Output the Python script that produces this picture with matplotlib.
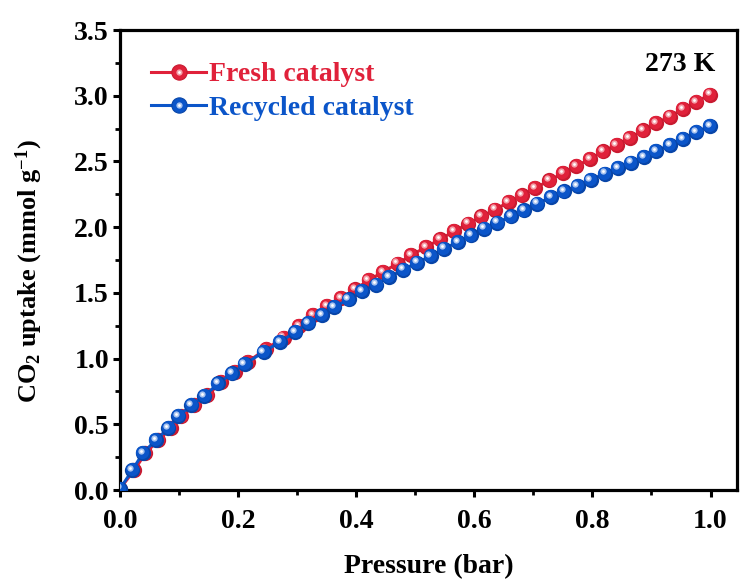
import matplotlib
matplotlib.use("Agg")
import matplotlib.pyplot as plt
from matplotlib import transforms
from matplotlib.lines import Line2D
from matplotlib.legend_handler import HandlerTuple

# CO2 adsorption isotherms at 273 K
fresh_p = [0.0, 0.024, 0.043, 0.065, 0.086, 0.104, 0.126, 0.148, 0.171, 0.195,
           0.216, 0.248, 0.277, 0.303, 0.327, 0.35, 0.374, 0.398, 0.421, 0.445,
           0.47, 0.493, 0.518, 0.542, 0.566, 0.59, 0.612, 0.635, 0.658, 0.681,
           0.703, 0.727, 0.75, 0.773, 0.796, 0.818, 0.841, 0.863, 0.886, 0.908,
           0.931, 0.953, 0.976, 0.999]
fresh_q = [0.01, 0.15, 0.28, 0.38, 0.47, 0.56, 0.645, 0.72, 0.82, 0.90,
           0.975, 1.075, 1.16, 1.25, 1.33, 1.398, 1.461, 1.527, 1.596, 1.659,
           1.723, 1.786, 1.849, 1.907, 1.97, 2.027, 2.082, 2.133, 2.191, 2.242,
           2.297, 2.356, 2.411, 2.464, 2.52, 2.576, 2.627, 2.68, 2.736, 2.791,
           2.842, 2.897, 2.954, 3.009]

recycled_p = [0.0, 0.021, 0.039, 0.061, 0.082, 0.099, 0.121, 0.143, 0.166, 0.19,
              0.211, 0.243, 0.271, 0.297, 0.319, 0.342, 0.363, 0.387, 0.41, 0.434,
              0.456, 0.48, 0.503, 0.526, 0.549, 0.572, 0.594, 0.617, 0.639, 0.662,
              0.684, 0.707, 0.73, 0.752, 0.775, 0.797, 0.821, 0.843, 0.865, 0.887,
              0.908, 0.931, 0.953, 0.976, 0.999]
recycled_q = [0.01, 0.152, 0.283, 0.38, 0.473, 0.562, 0.646, 0.714, 0.811, 0.887,
              0.957, 1.05, 1.127, 1.203, 1.27, 1.33, 1.393, 1.451, 1.512, 1.563,
              1.621, 1.677, 1.73, 1.78, 1.837, 1.887, 1.938, 1.989, 2.034, 2.082,
              2.128, 2.179, 2.229, 2.272, 2.315, 2.361, 2.407, 2.452, 2.492, 2.533,
              2.578, 2.627, 2.672, 2.723, 2.771]

series_labels = ["Fresh catalyst", "Recycled catalyst"]
x_ticks = [0.0, 0.2, 0.4, 0.6, 0.8, 1.0]
y_ticks = [0.0, 0.5, 1.0, 1.5, 2.0, 2.5, 3.0, 3.5]

RED = "#e0213a"
RED_DARK = "#c81a30"
RED_LIGHT = "#f4a0aa"
BLUE = "#0b55c9"
BLUE_DARK = "#0845a8"
BLUE_LIGHT = "#a9c4f0"

plt.rcParams["font.family"] = ["Liberation Serif", "DejaVu Serif"]
plt.rcParams["font.weight"] = "bold"
plt.rcParams["mathtext.fontset"] = "custom"
plt.rcParams["mathtext.rm"] = "Liberation Serif:bold"
plt.rcParams["mathtext.it"] = "Liberation Serif:bold"
plt.rcParams["mathtext.bf"] = "Liberation Serif:bold"

fig = plt.figure(figsize=(7.41, 5.83), dpi=100)
ax = fig.add_axes([0.162, 0.1595, 0.8327, 0.789])


def spheres(ax, x, y, base, dark, light, z):
    """Line with glossy ball markers."""
    ax.plot(x, y, color=base, lw=2.2, zorder=z)
    ax.plot(x, y, ls="none", marker="o", ms=11, mfc=dark, mec=dark, mew=0, zorder=z + 0.1)
    off1 = transforms.offset_copy(ax.transData, fig=fig, x=-0.8, y=0.8, units="dots")
    ax.plot(x, y, ls="none", marker="o", ms=9.5, mfc=base, mec=base, mew=0,
            transform=off1, zorder=z + 0.2)
    off2 = transforms.offset_copy(ax.transData, fig=fig, x=-2.2, y=2.2, units="dots")
    ax.plot(x, y, ls="none", marker="o", ms=4.5, mfc=light, mec=light, mew=0,
            transform=off2, zorder=z + 0.3)
    ax.plot(x, y, ls="none", marker="o", ms=2.0, mfc="white", mec="white", mew=0,
            transform=off2, zorder=z + 0.4)


spheres(ax, fresh_p, fresh_q, RED, RED_DARK, RED_LIGHT, 2)
spheres(ax, recycled_p, recycled_q, BLUE, BLUE_DARK, BLUE_LIGHT, 3)

ax.set_xlim(0, 1.045)
ax.set_ylim(0, 3.5)
ax.set_xticks(x_ticks)
ax.set_yticks(y_ticks)
ax.set_xticklabels([f"{v:.1f}" for v in x_ticks])
ax.set_yticklabels([f"{v:.1f}" for v in y_ticks])
ax.set_xticks([0.1, 0.3, 0.5, 0.7, 0.9], minor=True)
ax.set_yticks([0.25, 0.75, 1.25, 1.75, 2.25, 2.75, 3.25], minor=True)

for s in ax.spines.values():
    s.set_linewidth(2.3)
ax.tick_params(which="major", direction="out", length=5, width=2.2, labelsize=20)
ax.tick_params(axis="x", which="major", pad=9)
ax.tick_params(axis="y", which="major", pad=3)
ax.tick_params(which="minor", direction="out", length=3.5, width=2.0)
ax.tick_params(top=False, right=False, which="both")

ax.set_xlabel("Pressure (bar)", fontsize=20, fontweight="bold", labelpad=14)
ax.set_ylabel(r"CO$_\mathregular{2}$ uptake (mmol g$^\mathregular{-1}$)", fontsize=19,
              fontweight="bold")
ax.yaxis.set_label_coords(-0.122, 0.475)

ax.text(0.965, 0.925, "273 K", transform=ax.transAxes, ha="right", va="center",
        fontsize=20, fontweight="bold", color="black")


def legend_handle(base, dark, light):
    h1 = Line2D([], [], color=base, lw=2.2, marker="o", ms=11, mfc=base, mec=dark, mew=0.8)
    h2 = Line2D([], [], ls="none", marker="o", ms=4.5, mfc=light, mec=light, mew=0)
    h3 = Line2D([], [], ls="none", marker="o", ms=2.0, mfc="white", mec="white", mew=0)
    return (h1, h2, h3)


leg = ax.legend([legend_handle(RED, RED_DARK, RED_LIGHT),
                 legend_handle(BLUE, BLUE_DARK, BLUE_LIGHT)],
                series_labels,
                handler_map={tuple: HandlerTuple(ndivide=1, pad=0)},
                loc="upper left", bbox_to_anchor=(0.032, 0.955), frameon=False,
                fontsize=20, handlelength=2.0, handletextpad=0.1, labelspacing=0.3,
                borderaxespad=0.0)
for txt, col in zip(leg.get_texts(), [RED, BLUE]):
    txt.set_color(col)
    txt.set_fontweight("bold")

fig.savefig("out.png", dpi=100)
